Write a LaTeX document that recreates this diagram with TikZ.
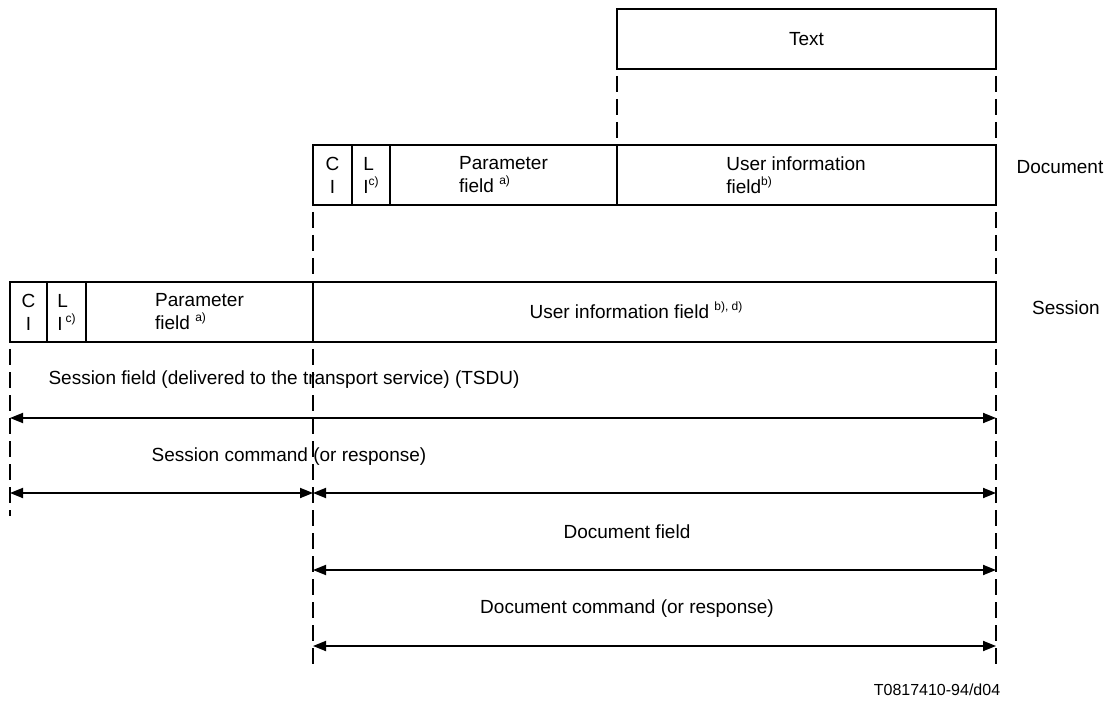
\documentclass[tikz,border=0pt]{standalone}
\usepackage{fontspec}
\setmainfont{Liberation Sans}
\usetikzlibrary{arrows.meta}
\newcommand{\sps}[1]{\raisebox{0.8ex}{\fontsize{12}{12}\selectfont #1}}

\begin{document}
\begin{tikzpicture}[x=1pt, y=-1pt, font=\fontsize{19}{23}\selectfont,
    cell/.style = {draw, line width=1.3pt, minimum height=60pt, inner sep=0pt, outer sep=0pt},
    guide/.style = {line width=2pt, dash pattern=on 16pt off 7pt},
    span/.style = {{Triangle[length=13pt,width=10pt]}-{Triangle[length=13pt,width=10pt]}, line width=1.8pt}]
  \useasboundingbox (0,0) rectangle (1114,703);

  % text layer
  \node[cell, minimum width=379pt] (txt) at (806.5,39) {Text};

  % document layer
  \node[cell, minimum width=39pt, align=center] (dci) at (332.5,175) {C\\I};
  \node[cell, minimum width=38pt, align=left] (dli) at (371,175) {L\\I\sps{c)}};
  \node[cell, minimum width=227pt, align=left] (dpar) at (503.5,175) {Parameter\\field \sps{a)}};
  \node[cell, minimum width=379pt] (duser) at (806.5,175) {};
  \node[align=left] (dulab) at (796,175) {User information\\field\sps{b)}};
  \node (doc) at (1060,167) {Document};

  % session layer
  \node[cell, minimum width=37pt, align=center] (sci) at (28.5,312) {C\\I};
  \node[cell, minimum width=39pt, align=left] (sli) at (66.5,312) {L\\I\,\sps{c)}};
  \node[cell, minimum width=227pt, align=left] (spar) at (199.5,312) {Parameter\\field \sps{a)}};
  \node[cell, minimum width=683pt] (suser) at (654.5,312) {};
  \node (sulab) at (636,310) {User information field \sps{b), d)}};
  \node (ses) at (1066,308) {Session};

  % dashed guides
  \coordinate (sl) at (10,516);
  \coordinate (ml) at (313,668);
  \coordinate (rl) at (996,668);
  \draw[guide] ([yshift=-7pt]txt.south west) -- ([yshift=7pt]duser.north west);
  \draw[guide] ([yshift=-7pt]txt.south east) -- ([yshift=7pt]duser.north east);
  \draw[guide] ([yshift=-7pt]dci.south west) -- ([yshift=7pt]suser.north west);
  \draw[guide] ([yshift=-7pt]duser.south east) -- ([yshift=7pt]suser.north east);
  \draw[guide] ([yshift=-7pt]sci.south west) -- (sl);
  \draw[guide] ([yshift=-7pt]suser.south west) -- (ml);
  \draw[guide] ([yshift=-7pt]suser.south east) -- (rl);

  % spans
  \coordinate (tsl) at (10,418);   \coordinate (tsr) at (996,418);
  \coordinate (scl) at (10,493);   \coordinate (scm) at (313,493);  \coordinate (scr) at (996,493);
  \coordinate (dfl) at (313,570);  \coordinate (dfr) at (996,570);
  \coordinate (dcl) at (313,646);  \coordinate (dcr) at (996,646);
  \draw[span] (tsl) -- (tsr);
  \draw[span] (scl) -- (scm);
  \draw[span] (scm) -- (scr);
  \draw[span] (dfl) -- (dfr);
  \draw[span] (dcl) -- (dcr);

  \node (tsdu) at (284,380) {Session field (delivered to the transport service) (TSDU)};
  \node (scmd) at (289,457) {Session command (or response)};
  \node (dfld) at (627,532) {Document field};
  \node (dcmd) at (627,609) {Document command (or response)};

  \node[font=\fontsize{16}{18}\selectfont] (ref) at (937,690) {T0817410-94/d04};
\end{tikzpicture}
\end{document}
